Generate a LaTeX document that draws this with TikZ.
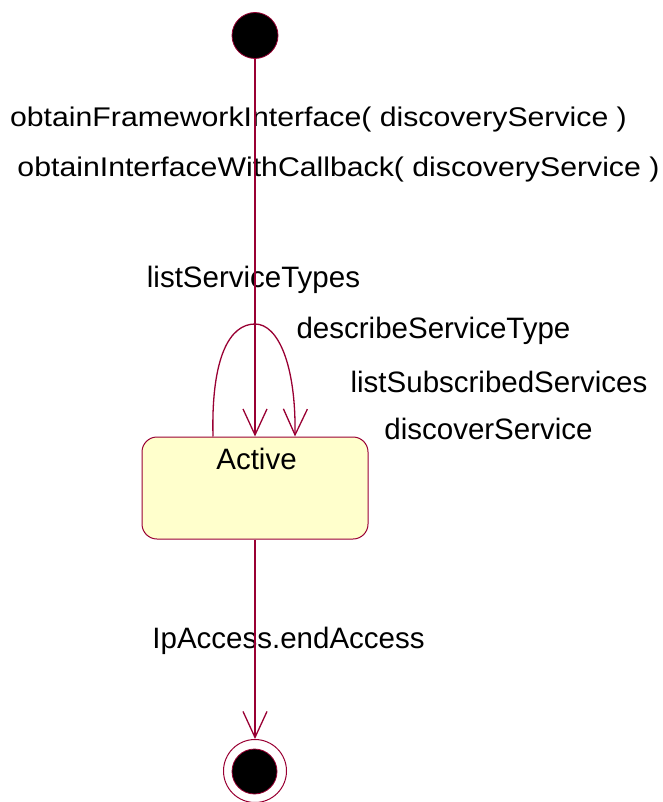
\documentclass[tikz,border=0pt]{standalone}
\usepackage{fontspec}
\setmainfont{Liberation Sans}
\newfontfamily\widefont[FakeStretch=1.12]{Liberation Sans}
\usetikzlibrary{arrows.meta,calc}
\definecolor{umlred}{HTML}{990033}
\definecolor{statefill}{HTML}{FFFFCC}
\begin{document}
\begin{tikzpicture}[x=1pt,y=-1pt,
  conn/.style={draw=umlred,line width=1.3pt},
  vtip/.style={-{Straight Barb[length=26pt,width=24pt]}},
  lbl/.style={font=\fontsize{29.5}{32}\selectfont, inner sep=0pt, anchor=base},
  widelbl/.style={font=\widefont\fontsize{27}{30}\selectfont, inner sep=0pt, anchor=base},
  statebox/.style={draw=umlred, fill=statefill, line width=1pt, rounded corners=15pt,
    minimum width=226pt, minimum height=102pt, inner sep=0pt},
  startdot/.style={circle, fill=black, draw=umlred, line width=0.8pt, minimum size=46pt, inner sep=0pt},
]
\useasboundingbox (0,0) rectangle (662,802);

% labels
\node[widelbl] (l1) at (318.5,127) {obtainFrameworkInterface( discoveryService )};
\node[widelbl] (l2) at (338.5,177) {obtainInterfaceWithCallback( discoveryService )};
\node[lbl] (l3) at (253.5,287) {listServiceTypes};
\node[lbl] (l4) at (433.5,338) {describeServiceType};
\node[lbl] (l5) at (499,392) {listSubscribedServices};
\node[lbl] (l6) at (488.5,439) {discoverService};
\node[lbl] (l7) at (288.5,648) {IpAccess.endAccess};

% nodes
\node[startdot] (start) at (255,35.5) {};
\node[statebox] (active) at (255,488) {};
\node[lbl] (activet) at (256.5,469) {Active};
\node[circle, draw=umlred, line width=1pt, minimum size=63pt, inner sep=0pt] (end) at (255,771) {};
\node[circle, fill=black, draw=umlred, line width=0.8pt, minimum size=45pt, inner sep=0pt] (endin) at (254.5,771.5) {};

% connectors
\coordinate (ls) at ($(active.north)+(-42,0)$);
\coordinate (le) at ($(active.north)+(40,0)$);
\coordinate (apex) at (255,324);
\draw[conn,vtip] (start.south) -- (active.north);
\draw[conn,vtip] (ls) .. controls ($(ls)+(-2,-80)$) and ($(apex)+(-25,0)$) .. (apex)
   .. controls ($(apex)+(23,0)$) and ($(le)+(1,-72)$) .. (le);
\draw[conn,vtip] (active.south) -- (end.north);
\end{tikzpicture}
\end{document}
